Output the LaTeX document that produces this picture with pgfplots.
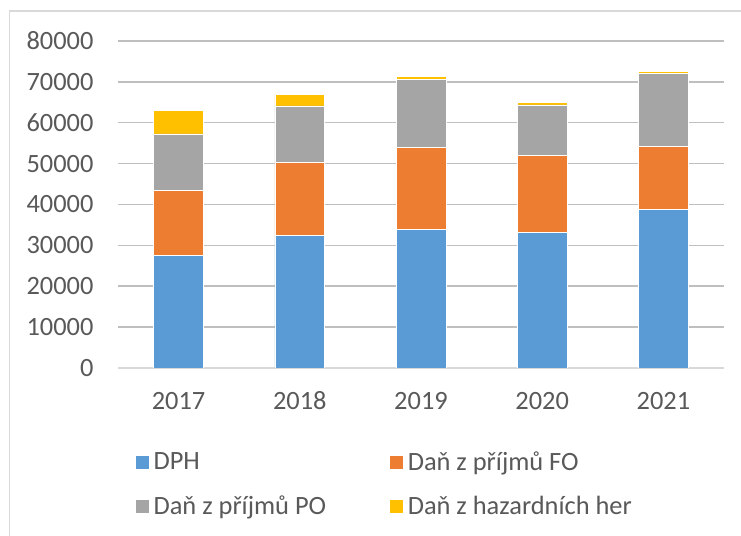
\documentclass[border=0pt]{standalone}
\usepackage{fontspec}
\setmainfont{Carlito}
\usepackage{pgfplots}
\pgfplotsset{compat=1.18}
\definecolor{cblue}{HTML}{5B9BD5}
\definecolor{corange}{HTML}{ED7D31}
\definecolor{cgray}{HTML}{A5A5A5}
\definecolor{cgold}{HTML}{FFC000}
\definecolor{grid}{HTML}{D9D9D9}
\definecolor{txt}{HTML}{595959}
\begin{document}
\begin{tikzpicture}[x=1bp,y=1bp]
\clip (0,0) rectangle (741,536);
\path[fill=white] (0,0) rectangle (741,536);
\draw[grid, line width=1.5bp] (9.5,-20) rectangle (800,525);
\begin{axis}[
  at={(118bp,168bp)}, anchor=south west,
  scale only axis, width=606bp, height=327bp,
  ybar stacked, bar width=0.41,
  xmin=-0.5, xmax=4.5, ymin=0, ymax=80000,
  xtick={0,1,2,3,4}, xticklabels={2017,2018,2019,2020,2021},
  ytick={0,10000,...,80000},
  scaled y ticks=false,
  /pgf/number format/assume math mode=true,
  yticklabel={\pgfmathprintnumber[fixed,use comma,1000 sep={}]{\tick}},
  axis x line*=bottom, axis y line*=left,
  y axis line style={draw=none},
  x axis line style={grid, line width=1.5bp},
  major tick length=0, xtick style={draw=none}, ytick style={draw=none},
  xmajorgrids=false,
  ymajorgrids, grid style={grid, line width=1.5bp},
  tick label style={font=\fontsize{26.5}{31}\selectfont, text=txt},
  xticklabel style={anchor=base, yshift=-42bp},
  yticklabel style={xshift=-21bp},
  legend style={at={(rel axis cs:0.028,-0.25)}, anchor=north west,
    draw=none, fill=none, inner sep=0pt, outer sep=0pt,
    font=\fontsize{26.5}{31}\selectfont, text=txt,
    legend columns=2, row sep=20bp,
    /tikz/every even column/.append style={column sep=61bp},
    /tikz/every odd column/.append style={column sep=2bp}},
  legend cell align=left,
  legend image code/.code={\fill[#1] (0bp,-7bp) rectangle (14bp,7bp);},
  every axis plot/.append style={draw=white, line width=0.6bp},
]
\addplot[fill=cblue] coordinates {(0,27450) (1,32350) (2,33820) (3,33090) (4,38810)};
\addlegendentry{DPH}
\addplot[fill=corange] coordinates {(0,15900) (1,17980) (2,20100) (3,18870) (4,15360)};
\addlegendentry{Daň z příjmů FO}
\addplot[fill=cgray] coordinates {(0,13900) (1,13800) (2,16590) (3,12420) (4,17890)};
\addlegendentry{Daň z příjmů PO}
\addplot[fill=cgold] coordinates {(0,5700) (1,2780) (2,890) (3,650) (4,490)};
\addlegendentry{Daň z hazardních her}
\end{axis}
\end{tikzpicture}
\end{document}
